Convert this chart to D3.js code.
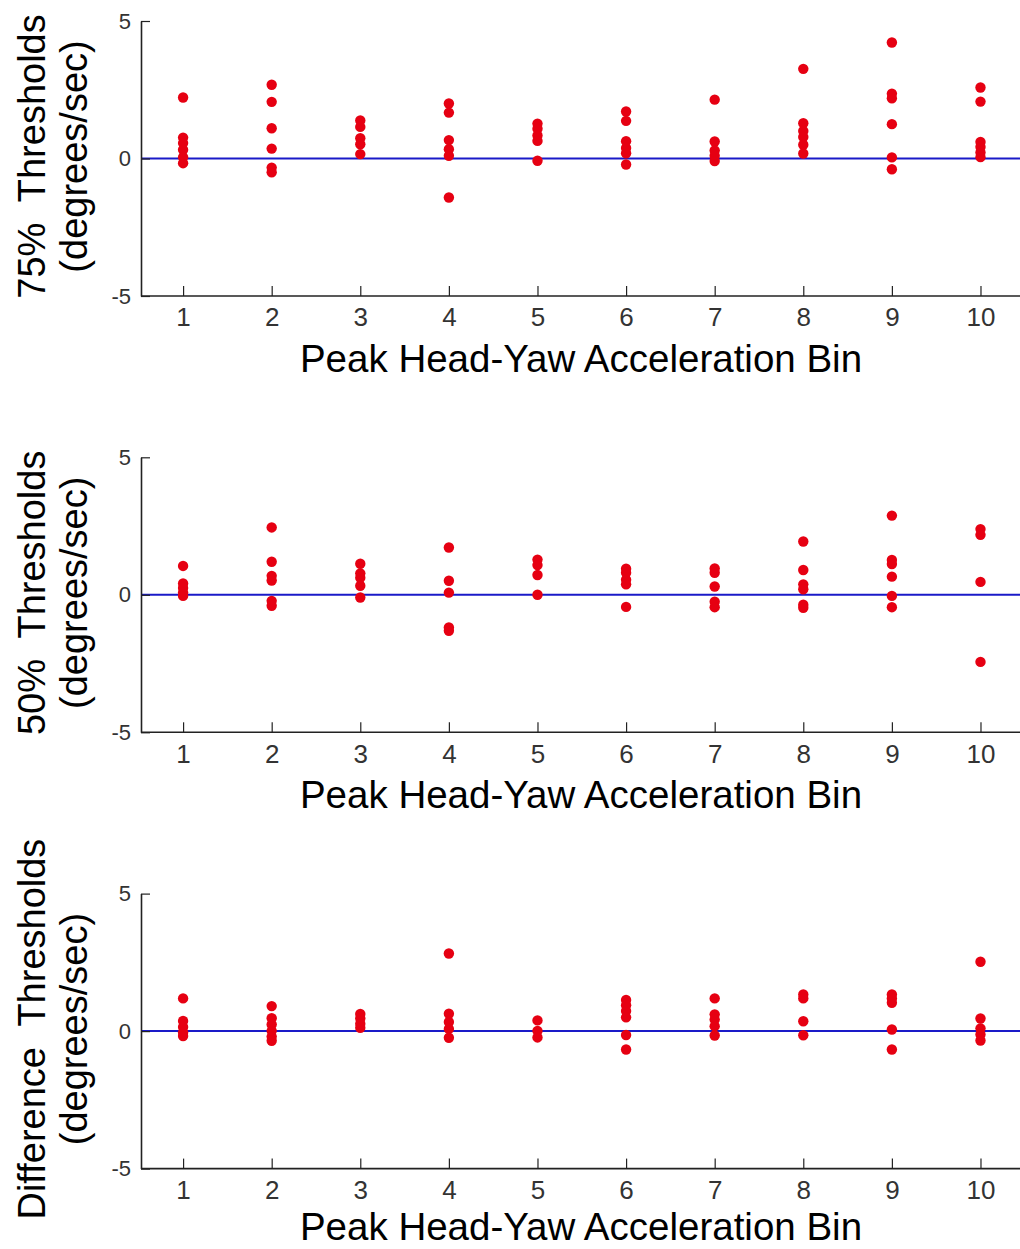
<!DOCTYPE html>
<html>
<head>
<meta charset="utf-8">
<script src="https://cdn.jsdelivr.net/npm/d3@7"></script>
<style>
  body { margin: 0; background: #fff; }
  svg { display: block; }
</style>
</head>
<body>
<svg id="chart" width="1020" height="1249"></svg>
<script>
// Values, one array per bin
const bins = [1, 2, 3, 4, 5, 6, 7, 8, 9, 10]
const xTicks = [1, 2, 3, 4, 5, 6, 7, 8, 9, 10]
const yTicks = [-5, 0, 5]

const thresh75 = [
  [2.22, 0.76, 0.56, 0.32, 0.05, -0.17],
  [2.68, 2.06, 1.1, 0.36, -0.33, -0.5],
  [1.38, 1.15, 0.74, 0.52, 0.16],
  [2.0, 1.67, 0.67, 0.34, 0.1, -1.42],
  [1.27, 1.08, 0.84, 0.64, -0.08],
  [1.71, 1.37, 0.63, 0.38, 0.19, -0.22],
  [2.14, 0.62, 0.29, 0.1, -0.09],
  [3.26, 1.28, 1.0, 0.78, 0.5, 0.18],
  [4.22, 2.36, 2.19, 1.25, 0.04, -0.39],
  [2.58, 2.07, 0.6, 0.42, 0.22, 0.05]
]

const thresh50 = [
  [1.05, 0.41, 0.25, 0.08, -0.04],
  [2.45, 1.2, 0.69, 0.52, -0.22, -0.4],
  [1.13, 0.78, 0.62, 0.33, -0.1],
  [1.72, 0.51, 0.08, -1.19, -1.31],
  [1.28, 1.08, 0.72, 0.0],
  [0.95, 0.8, 0.55, 0.38, -0.44],
  [0.96, 0.8, 0.3, -0.25, -0.45],
  [1.94, 0.9, 0.38, 0.2, -0.36, -0.47],
  [2.88, 1.27, 1.12, 0.66, -0.04, -0.45],
  [2.39, 2.18, 0.47, -2.44]
]

const threshDiff = [
  [1.19, 0.37, 0.15, -0.05, -0.18],
  [0.91, 0.47, 0.24, 0.01, -0.2, -0.35],
  [0.62, 0.46, 0.27, 0.12],
  [2.82, 0.63, 0.33, 0.08, -0.24],
  [0.39, 0.01, -0.23],
  [1.13, 0.94, 0.73, 0.5, -0.14, -0.67],
  [1.19, 0.61, 0.42, 0.18, -0.16],
  [1.33, 1.19, 0.36, -0.15],
  [1.33, 1.19, 1.03, 0.06, -0.67],
  [2.52, 0.46, 0.1, -0.12, -0.34]
]

const panelData = [thresh75, thresh50, threshDiff]
const yTitles = [
  ['75%  Thresholds', '(degrees/sec)'],
  ['50%  Thresholds', '(degrees/sec)'],
  ['Difference  Thresholds', '(degrees/sec)']
]
const xTitle = 'Peak Head-Yaw Acceleration Bin'

const sizes = {
  width: 1020,
  left: 141,
  unit: 88.6,
  panelTop: 21,
  panelStep: 436.3,
  panelHeight: 275
}
const font = 'Liberation Sans, Arial, sans-serif'

const svg = d3.select('#chart')

// x scale is shared by the three panels (the right end runs off the picture)
const xScale = d3.scaleLinear()
  .domain([0.525, 10.525])
  .range([sizes.left, sizes.left + 10 * sizes.unit])

/**
 * @param {number} i index of the panel
 */
function drawPanel (i) {
  const top = sizes.panelTop + i * sizes.panelStep
  const bottom = top + sizes.panelHeight
  const yScale = d3.scaleLinear().domain([-5, 5]).range([bottom, top])
  const g = svg.append('g').attr('class', 'panel')

  // blue zero line
  g.append('line')
    .attr('x1', xScale(0.525))
    .attr('x2', sizes.width)
    .attr('y1', yScale(0))
    .attr('y2', yScale(0))
    .attr('stroke', '#1a1ac8')
    .attr('stroke-width', 2)

  // dots
  const points = []
  panelData[i].forEach((vals, b) => {
    vals.forEach(v => points.push({ bin: bins[b], value: v }))
  })
  g.selectAll('circle')
    .data(points)
    .enter()
    .append('circle')
    .attr('cx', d => xScale(d.bin))
    .attr('cy', d => yScale(d.value))
    .attr('r', 5.2)
    .attr('fill', '#e60012')

  // axes, ticks point inward like matlab
  const xAxis = d3.axisBottom(xScale)
    .tickValues(xTicks)
    .tickSize(-10)
    .tickPadding(12)
    .tickSizeOuter(0)
  const gx = g.append('g')
    .attr('transform', `translate(0, ${bottom})`)
    .call(xAxis)
  gx.select('.domain')
    .attr('d', `M${xScale(0.525)},0H${sizes.width}`)
    .attr('stroke', '#222')
    .attr('stroke-width', 1.6)
  gx.selectAll('.tick line').attr('stroke', '#222').attr('stroke-width', 1.2)
  gx.selectAll('.tick text')
    .attr('font-family', font)
    .attr('font-size', 26)
    .attr('fill', '#333')

  const yAxis = d3.axisLeft(yScale)
    .tickValues(yTicks)
    .tickFormat(d => String(d))
    .tickSize(-9)
    .tickPadding(10)
    .tickSizeOuter(0)
  const gy = g.append('g')
    .attr('transform', `translate(${xScale(0.525)}, 0)`)
    .call(yAxis)
  gy.select('.domain').attr('stroke', '#222').attr('stroke-width', 1.6)
  gy.selectAll('.tick line').attr('stroke', '#222').attr('stroke-width', 1.2)
  gy.selectAll('.tick text')
    .attr('font-family', font)
    .attr('font-size', 22)
    .attr('fill', '#333')

  // axis titles
  g.append('text')
    .text(xTitle)
    .attr('x', 581)
    .attr('y', Math.min(bottom + 76, 1240))
    .attr('text-anchor', 'middle')
    .attr('font-family', font)
    .attr('font-size', 38.5)
    .attr('fill', '#000')

  const yt = g.append('text')
    .attr('transform', `translate(45, ${(top + bottom) / 2 - 2}) rotate(-90)`)
    .attr('text-anchor', 'middle')
    .attr('font-family', font)
    .attr('font-size', 38)
    .attr('fill', '#000')
    .style('white-space', 'pre')
  yt.append('tspan').attr('x', 0).attr('y', 0).text(yTitles[i][0])
  yt.append('tspan').attr('x', 0).attr('y', 42).text(yTitles[i][1])
}

svg.selectAll('.panel').remove()
panelData.forEach((d, i) => drawPanel(i))
</script>
</body>
</html>
